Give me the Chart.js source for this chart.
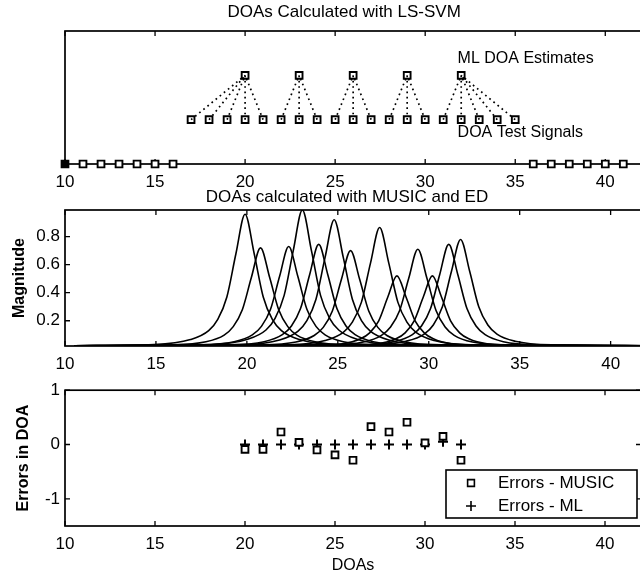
<!DOCTYPE html>
<html>
<head>
<meta charset="utf-8">
<script src="https://cdn.jsdelivr.net/npm/chart.js@4.4.0/dist/chart.umd.min.js"></script>
<style>
  html, body { margin: 0; padding: 0; background: #fff; overflow: hidden; width: 640px; height: 575px; }
  #wrap { position: relative; width: 660px; height: 575px; }
  canvas { position: absolute; left: 0; }
</style>
</head>
<body>
<div id="wrap">
<canvas id="c1" width="648" height="192" style="top:0px"></canvas>
<canvas id="c2" width="648" height="190" style="top:185px"></canvas>
<canvas id="c3" width="648" height="200" style="top:375px"></canvas>
</div>
<script>
// shared x axis (DOA in degrees)
const X_TICKS = [10, 15, 20, 25, 30, 35, 40];

// --- panel 1: LS-SVM mapping of test DOAs onto ML estimates
const axisDOA = [10, 11, 12, 13, 14, 15, 16, 36, 37, 38, 39, 40, 41];
const testDOA = [17, 18, 19, 20, 21, 22, 23, 24, 25, 26, 27, 28, 29, 30, 31, 32, 33, 34, 35];
const mlOfTest = [20, 20, 20, 20, 20, 23, 23, 23, 26, 26, 26, 29, 29, 29, 32, 32, 32, 32, 32];
const mlDOA = [20, 23, 26, 29, 32];
const LEVEL_AXIS = 0, LEVEL_TEST = 1, LEVEL_ML = 2;
const panel1Notes = [
  { text: 'ML DOA Estimates', x: 31.8, y: 2.37 },
  { text: 'DOA Test Signals', x: 31.8, y: 0.70 }
];

// --- panel 2: MUSIC pseudo-spectra, [doa, magnitude]
const spec20 = [[10.5,.022],[14.9,.03],[16.9,.066],[17.9,.13],[18.4,.21],[18.9,.37],[19.4,.68],[19.9,.96],[20.4,.68],[20.9,.37],[21.4,.21],[21.9,.13],[22.9,.066],[24.9,.03],[42,.022]];
const spec21 = [[10.5,.022],[15.75,.028],[17.75,.05],[18.75,.098],[19.25,.158],[19.75,.278],[20.25,.51],[20.75,.72],[21.25,.51],[21.75,.278],[22.25,.158],[22.75,.098],[23.75,.05],[25.75,.028],[42,.022]];
const spec22 = [[10.5,.022],[17.3,.028],[19.3,.05],[20.3,.099],[20.8,.16],[21.3,.282],[21.8,.517],[22.3,.73],[22.8,.517],[23.3,.282],[23.8,.16],[24.3,.099],[25.3,.05],[27.3,.028],[42,.022]];
const spec23 = [[10.5,.022],[18.05,.031],[20.05,.068],[21.05,.134],[21.55,.217],[22.05,.381],[22.55,.70],[23.05,.99],[23.55,.70],[24.05,.381],[24.55,.217],[25.05,.134],[26.05,.068],[28.05,.031],[42,.022]];
const spec24 = [[10.5,.022],[18.95,.028],[20.95,.051],[21.95,.101],[22.45,.163],[22.95,.287],[23.45,.528],[23.95,.745],[24.45,.528],[24.95,.287],[25.45,.163],[25.95,.101],[26.95,.051],[28.95,.028],[42,.022]];
const spec25 = [[10.5,.022],[19.8,.03],[21.8,.063],[22.8,.125],[23.3,.201],[23.8,.354],[24.3,.652],[24.8,.92],[25.3,.652],[25.8,.354],[26.3,.201],[26.8,.125],[27.8,.063],[29.8,.03],[42,.022]];
const spec26 = [[10.5,.022],[20.7,.028],[22.7,.048],[23.7,.095],[24.2,.153],[24.7,.27],[25.2,.496],[25.7,.70],[26.2,.496],[26.7,.27],[27.2,.153],[27.7,.095],[28.7,.048],[30.7,.028],[42,.022]];
const spec27 = [[10.5,.022],[22.3,.029],[24.3,.059],[25.3,.117],[25.8,.19],[26.3,.333],[26.8,.613],[27.3,.865],[27.8,.613],[28.3,.333],[28.8,.19],[29.3,.117],[30.3,.059],[32.3,.029],[42,.022]];
const spec28 = [[10.5,.022],[23.25,.025],[25.25,.036],[26.25,.071],[26.75,.114],[27.25,.2],[27.75,.369],[28.25,.52],[28.75,.369],[29.25,.2],[29.75,.114],[30.25,.071],[31.25,.036],[33.25,.025],[42,.022]];
const spec29 = [[10.5,.022],[24.4,.028],[26.4,.048],[27.4,.096],[27.9,.155],[28.4,.273],[28.9,.503],[29.4,.71],[29.9,.503],[30.4,.273],[30.9,.155],[31.4,.096],[32.4,.048],[34.4,.028],[42,.022]];
const spec30 = [[10.5,.022],[25.2,.025],[27.2,.036],[28.2,.071],[28.7,.114],[29.2,.2],[29.7,.369],[30.2,.52],[30.7,.369],[31.2,.2],[31.7,.114],[32.2,.071],[33.2,.036],[35.2,.025],[42,.022]];
const spec31 = [[10.5,.022],[26.1,.028],[28.1,.051],[29.1,.101],[29.6,.163],[30.1,.287],[30.6,.528],[31.1,.745],[31.6,.528],[32.1,.287],[32.6,.163],[33.1,.101],[34.1,.051],[36.1,.028],[42,.022]];
const spec32 = [[10.5,.022],[26.75,.028],[28.75,.054],[29.75,.105],[30.25,.17],[30.75,.30],[31.25,.553],[31.75,.78],[32.25,.553],[32.75,.30],[33.25,.17],[33.75,.105],[34.75,.054],[36.75,.028],[42,.022]];
const musicSpectra = [spec20, spec21, spec22, spec23, spec24, spec25, spec26, spec27, spec28, spec29, spec30, spec31, spec32];
const MAG_TICKS = [0.2, 0.4, 0.6, 0.8];

// --- panel 3: estimation errors
const errDOA = [20, 21, 22, 23, 24, 25, 26, 27, 28, 29, 30, 31, 32];
const errMUSIC = [-0.09, -0.09, 0.23, 0.04, -0.10, -0.19, -0.29, 0.33, 0.23, 0.41, 0.03, 0.15, -0.29];
const errML = [0, 0, 0, 0, 0, 0, 0, 0, 0, 0, 0, 0.05, 0];
const ERR_TICKS = [-1, 0, 1];

const FONT = "'Liberation Sans', Arial, Helvetica, sans-serif";

// MATLAB-like box, inward ticks, centred title, notes and legend
const matlabAxes = {
  id: 'matlabAxes',
  beforeDatasetsDraw(chart, args, opts) {
    const { ctx, chartArea: a, scales: { x, y } } = chart;
    ctx.save();
    ctx.strokeStyle = '#000';
    ctx.lineWidth = 1.7;
    ctx.strokeRect(a.left, a.top, a.right - a.left, a.bottom - a.top);
    ctx.lineWidth = 1.3;
    ctx.beginPath();
    x.ticks.forEach(t => {
      const px = x.getPixelForValue(t.value);
      ctx.moveTo(px, a.bottom); ctx.lineTo(px, a.bottom - 5);
      ctx.moveTo(px, a.top); ctx.lineTo(px, a.top + 5);
    });
    y.ticks.forEach(t => {
      const py = y.getPixelForValue(t.value);
      ctx.moveTo(a.left, py); ctx.lineTo(a.left + 5, py);
      ctx.moveTo(a.right, py); ctx.lineTo(a.right - 5, py);
    });
    ctx.stroke();
    ctx.fillStyle = '#000';
    ctx.font = '17px ' + FONT;
    ctx.textAlign = 'center';
    ctx.textBaseline = 'middle';
    if (opts.title) ctx.fillText(opts.title, x.getPixelForValue(opts.titleAt), a.top - opts.titleGap);
    ctx.font = '16px ' + FONT;
    ctx.textAlign = 'left';
    (opts.notes || []).forEach(n => ctx.fillText(n.text, x.getPixelForValue(n.x), y.getPixelForValue(n.y)));
    ctx.restore();
  },
  afterDatasetsDraw(chart, args, opts) {
    if (!opts.legend) return;
    const { ctx, chartArea: a } = chart;
    const left = a.right - 195, top = a.bottom - 56;
    ctx.save();
    ctx.fillStyle = '#fff';
    ctx.fillRect(left, top, 191, 48);
    ctx.strokeStyle = '#000';
    ctx.lineWidth = 1.6;
    ctx.strokeRect(left, top, 191, 48);
    opts.legend.forEach((item, i) => {
      const cy = top + 13 + i * 23;
      ctx.fillStyle = '#fff';
      ctx.strokeStyle = '#000';
      Chart.helpers.drawPoint(ctx, { pointStyle: item.style, radius: item.radius, borderWidth: item.borderWidth, rotation: 0 }, left + 25, cy);
      ctx.fillStyle = '#000';
      ctx.font = '17px ' + FONT;
      ctx.textAlign = 'left';
      ctx.textBaseline = 'middle';
      ctx.fillText(item.text, left + 52, cy);
    });
    ctx.restore();
  }
};

function xAxis(height, label) {
  return {
    type: 'linear', min: 10, max: 42,
    afterBuildTicks: s => { s.ticks = X_TICKS.map(v => ({ value: v })); },
    afterFit: s => { s.height = height; },
    grid: { display: false, drawTicks: false },
    border: { display: false },
    ticks: { color: '#000', padding: 8, maxRotation: 0, autoSkip: false, font: { family: FONT, size: 17 } },
    title: { display: !!label, text: label || '', color: '#000', font: { family: FONT, size: 16 }, padding: { top: 0, bottom: 0 } }
  };
}

function yAxis(min, max, tickVals, label, pad) {
  return {
    type: 'linear', min, max,
    afterBuildTicks: s => { s.ticks = tickVals.map(v => ({ value: v })); },
    afterFit: s => { s.width = 65; },
    grid: { display: false, drawTicks: false },
    border: { display: false },
    ticks: { display: tickVals.length > 0, color: '#000', padding: 5, font: { family: FONT, size: 17 }, callback: v => String(v) },
    title: { display: !!label, text: label || '', color: '#000', font: { family: FONT, size: 16, weight: 'bold' }, padding: { top: pad, bottom: 0 } }
  };
}

function makeChart(id, datasets, padTop, x, y, axesOpts) {
  return new Chart(document.getElementById(id), {
    type: 'line',
    data: { datasets },
    options: {
      responsive: false, animation: false, events: [],
      layout: { padding: { top: padTop, right: 1, left: 0, bottom: 0 } },
      scales: { x, y },
      plugins: { legend: { display: false }, tooltip: { enabled: false }, matlabAxes: axesOpts }
    },
    plugins: [matlabAxes]
  });
}

const square = { showLine: false, pointStyle: 'rect', pointRadius: 4.8, pointBorderWidth: 1.9, pointBorderColor: '#000', pointBackgroundColor: '#fff', clip: false };

// panel 1
const links = testDOA.map((t, i) => ({
  data: [{ x: t, y: LEVEL_TEST }, { x: mlOfTest[i], y: LEVEL_ML }],
  borderColor: '#000', borderWidth: 1.7, borderDash: [1.7, 3.6], pointRadius: 0
}));
makeChart('c1', [
  ...links,
  { ...square, data: testDOA.map(v => ({ x: v, y: LEVEL_TEST })) },
  { ...square, data: mlDOA.map(v => ({ x: v, y: LEVEL_ML })) },
  { ...square, data: axisDOA.map(v => ({ x: v, y: LEVEL_AXIS })), pointBackgroundColor: axisDOA.map((v, i) => i === 0 ? '#000' : '#fff') }
], 31, xAxis(28), yAxis(0, 3, [], null, 0),
  { title: 'DOAs Calculated with LS-SVM', titleAt: 25.5, titleGap: 19, notes: panel1Notes });

// panel 2
makeChart('c2', musicSpectra.map(s => ({
  data: s.map(([x, y]) => ({ x, y })),
  borderColor: '#000', borderWidth: 1.6, pointRadius: 0, cubicInterpolationMode: 'monotone', fill: false
})), 25, xAxis(29), yAxis(0.02, 0.99, MAG_TICKS, 'Magnitude', 10),
  { title: 'DOAs calculated with MUSIC and ED', titleAt: 25.5, titleGap: 13 });

// panel 3
makeChart('c3', [
  { ...square, data: errDOA.map((d, i) => ({ x: d, y: errMUSIC[i] })) },
  { showLine: false, pointStyle: 'cross', pointRadius: 5, pointBorderWidth: 2, pointBorderColor: '#000', data: errDOA.map((d, i) => ({ x: d, y: errML[i] })) }
], 15, xAxis(49, 'DOAs'), yAxis(-1.5, 1, ERR_TICKS, 'Errors in DOA', 14),
  { legend: [
    { text: 'Errors - MUSIC', style: 'rect', radius: 4.8, borderWidth: 1.9 },
    { text: 'Errors - ML', style: 'cross', radius: 5, borderWidth: 2 }
  ] });
</script>
</body>
</html>
